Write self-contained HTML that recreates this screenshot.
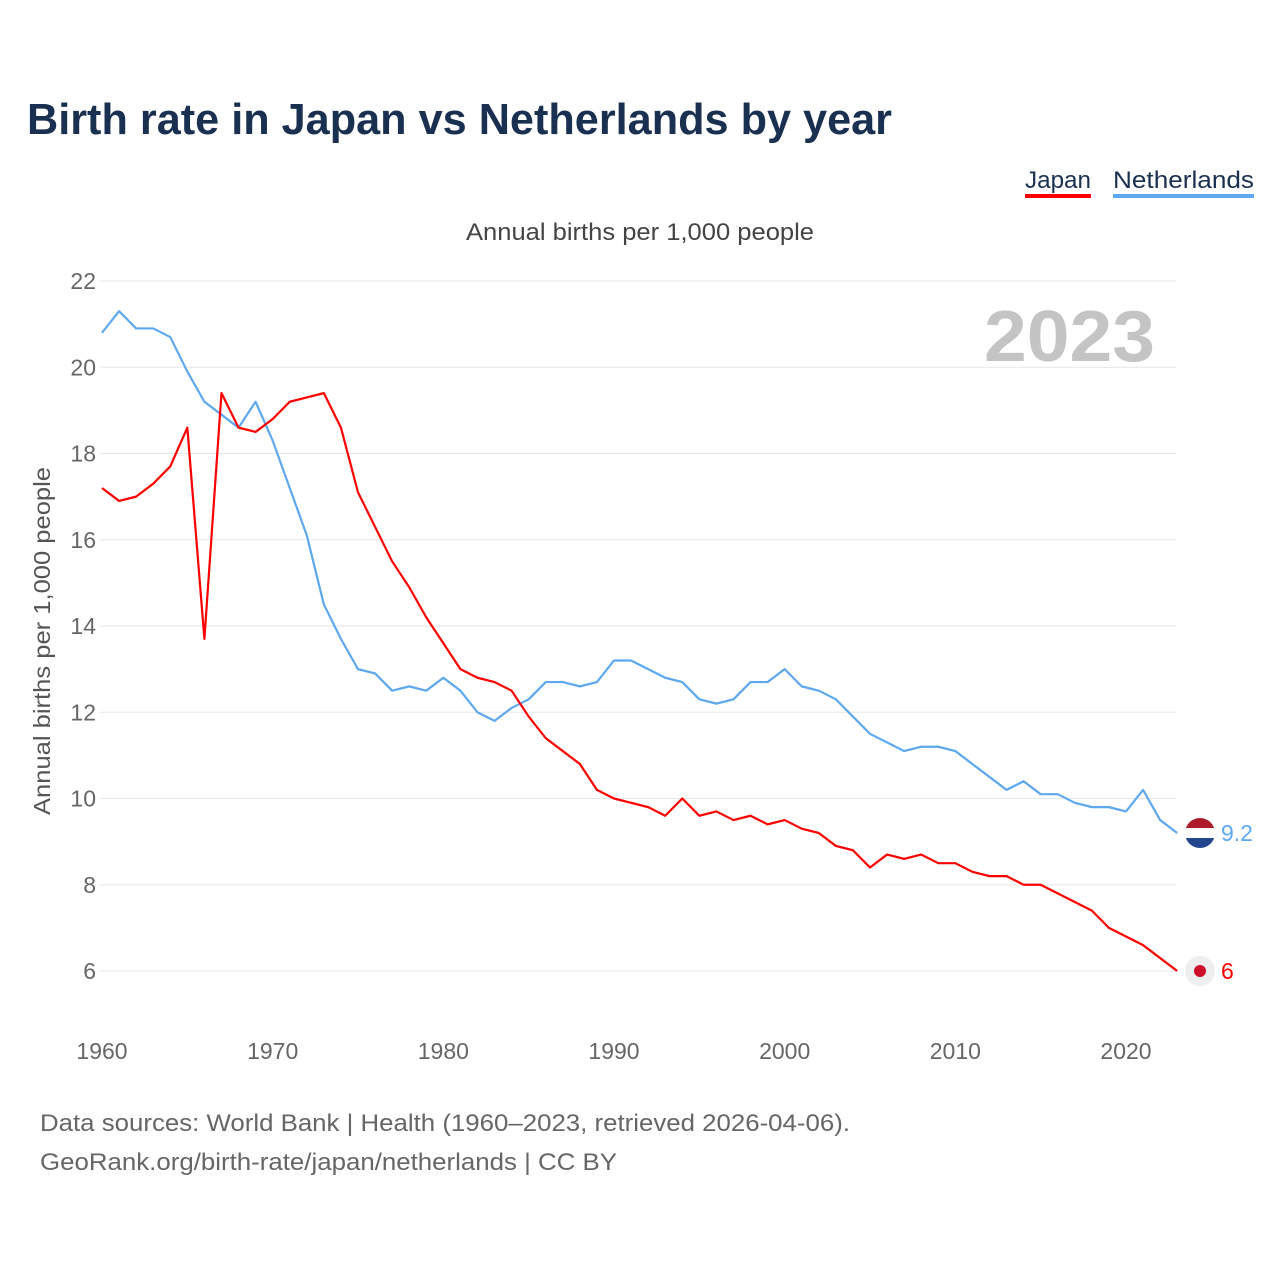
<!DOCTYPE html>
<html><head><meta charset="utf-8"><style>
body{margin:0;background:#fff;font-family:"Liberation Sans",sans-serif}
svg text{font-family:"Liberation Sans",sans-serif}
</style></head><body>
<svg id="chart" width="1280" height="1280" viewBox="0 0 1280 1280">
<text x="27" y="134" font-size="44" font-weight="bold" fill="#1a3050" textLength="865" lengthAdjust="spacingAndGlyphs">Birth rate in Japan vs Netherlands by year</text>
<g><text x="1025" y="188" font-size="24" fill="#1a3050" textLength="66" lengthAdjust="spacingAndGlyphs">Japan</text><rect x="1025" y="194" width="66" height="4" fill="#ff0000"/></g>
<g><text x="1113" y="188" font-size="24" fill="#1a3050" textLength="141" lengthAdjust="spacingAndGlyphs">Netherlands</text><rect x="1113" y="194" width="141" height="4" fill="#5da8ee"/></g>
<text x="640" y="240" text-anchor="middle" font-size="24" fill="#444" textLength="348" lengthAdjust="spacingAndGlyphs">Annual births per 1,000 people</text>
<text x="1155" y="361" text-anchor="end" font-size="72" font-weight="bold" fill="#c4c4c4" textLength="171" lengthAdjust="spacingAndGlyphs">2023</text>
<text transform="translate(50,641) rotate(-90)" text-anchor="middle" font-size="23" fill="#555" textLength="348" lengthAdjust="spacingAndGlyphs">Annual births per 1,000 people</text>
<g id="grid"></g><g id="lines"></g>
<text x="40" y="1131" font-size="24" fill="#666" textLength="810" lengthAdjust="spacingAndGlyphs">Data sources: World Bank | Health (1960–2023, retrieved 2026-04-06).</text>
<text x="40" y="1170" font-size="24" fill="#666" textLength="577" lengthAdjust="spacingAndGlyphs">GeoRank.org/birth-rate/japan/netherlands | CC BY</text>
</svg>
<script>
const years=[];for(let y=1960;y<=2023;y++)years.push(y);
const japan=[17.2,16.9,17.0,17.3,17.7,18.6,13.7,19.4,18.6,18.5,18.8,19.2,19.3,19.4,18.6,17.1,16.3,15.5,14.9,14.2,13.6,13.0,12.8,12.7,12.5,11.9,11.4,11.1,10.8,10.2,10.0,9.9,9.8,9.6,10.0,9.6,9.7,9.5,9.6,9.4,9.5,9.3,9.2,8.9,8.8,8.4,8.7,8.6,8.7,8.5,8.5,8.3,8.2,8.2,8.0,8.0,7.8,7.6,7.4,7.0,6.8,6.6,6.3,6.0];
const netherlands=[20.8,21.3,20.9,20.9,20.7,19.9,19.2,18.9,18.6,19.2,18.3,17.2,16.1,14.5,13.7,13.0,12.9,12.5,12.6,12.5,12.8,12.5,12.0,11.8,12.1,12.3,12.7,12.7,12.6,12.7,13.2,13.2,13.0,12.8,12.7,12.3,12.2,12.3,12.7,12.7,13.0,12.6,12.5,12.3,11.9,11.5,11.3,11.1,11.2,11.2,11.1,10.8,10.5,10.2,10.4,10.1,10.1,9.9,9.8,9.8,9.7,10.2,9.5,9.2];
const yTicks=[6,8,10,12,14,16,18,20,22];
const xTicks=[1960,1970,1980,1990,2000,2010,2020];
const NS="http://www.w3.org/2000/svg";
const X=y=>102+(y-1960)*1024/60;
const Y=v=>281+(22-v)*43.125;
const grid=document.getElementById('grid'),lines=document.getElementById('lines');
function mk(tag,attrs,parent){const e=document.createElementNS(NS,tag);for(const k in attrs)e.setAttribute(k,attrs[k]);parent.appendChild(e);return e;}
yTicks.forEach(t=>{
 const l=mk('line',{x1:100,x2:1176,y1:Y(t),y2:Y(t),stroke:'#e6e6e6','stroke-width':1},grid);
 
 
 const tx=mk('text',{x:96,y:Y(t)+8,'text-anchor':'end','font-size':23,fill:'#666'},grid);tx.textContent=t;
 
 
});
xTicks.forEach(t=>{
 const tx=mk('text',{x:X(t),y:1059,'text-anchor':'middle','font-size':23,fill:'#666'},grid);tx.textContent=t;
 
 
});
function series(vals,color,name){
 const p=mk('polyline',{points:vals.map((v,i)=>X(years[i])+','+Y(v)).join(' '),fill:'none',stroke:color,'stroke-width':2.2,'stroke-linejoin':'round'},lines);
 
 
}
series(netherlands,'#5da8ee','netherlands-line');
series(japan,'#ff0000','japan-line');
const nl=netherlands[netherlands.length-1],jp=japan[japan.length-1];
const ny=Y(nl),jy=Y(jp),fx=1200;
const defs=mk('defs',{},lines);const cp=mk('clipPath',{id:'fc'},defs);mk('circle',{cx:fx,cy:ny,r:15},cp);
const fg=mk('g',{'clip-path':'url(#fc)'},lines);


mk('rect',{x:fx-15,y:ny-15,width:30,height:10,fill:'#ae1c28'},fg);
mk('rect',{x:fx-15,y:ny-5,width:30,height:10,fill:'#fff'},fg);
mk('rect',{x:fx-15,y:ny+5,width:30,height:10,fill:'#21468b'},fg);
const jf=mk('g',{},lines);


mk('circle',{cx:fx,cy:jy,r:15,fill:'#eee'},jf);mk('circle',{cx:fx,cy:jy,r:6,fill:'#d0102a'},jf);
const t1=mk('text',{x:1221,y:ny+8,'font-size':23,fill:'#5da8ee'},lines);t1.textContent=nl;


const t2=mk('text',{x:1221,y:jy+8,'font-size':23,fill:'#ff0000'},lines);t2.textContent=jp;


</script>
</body></html>
